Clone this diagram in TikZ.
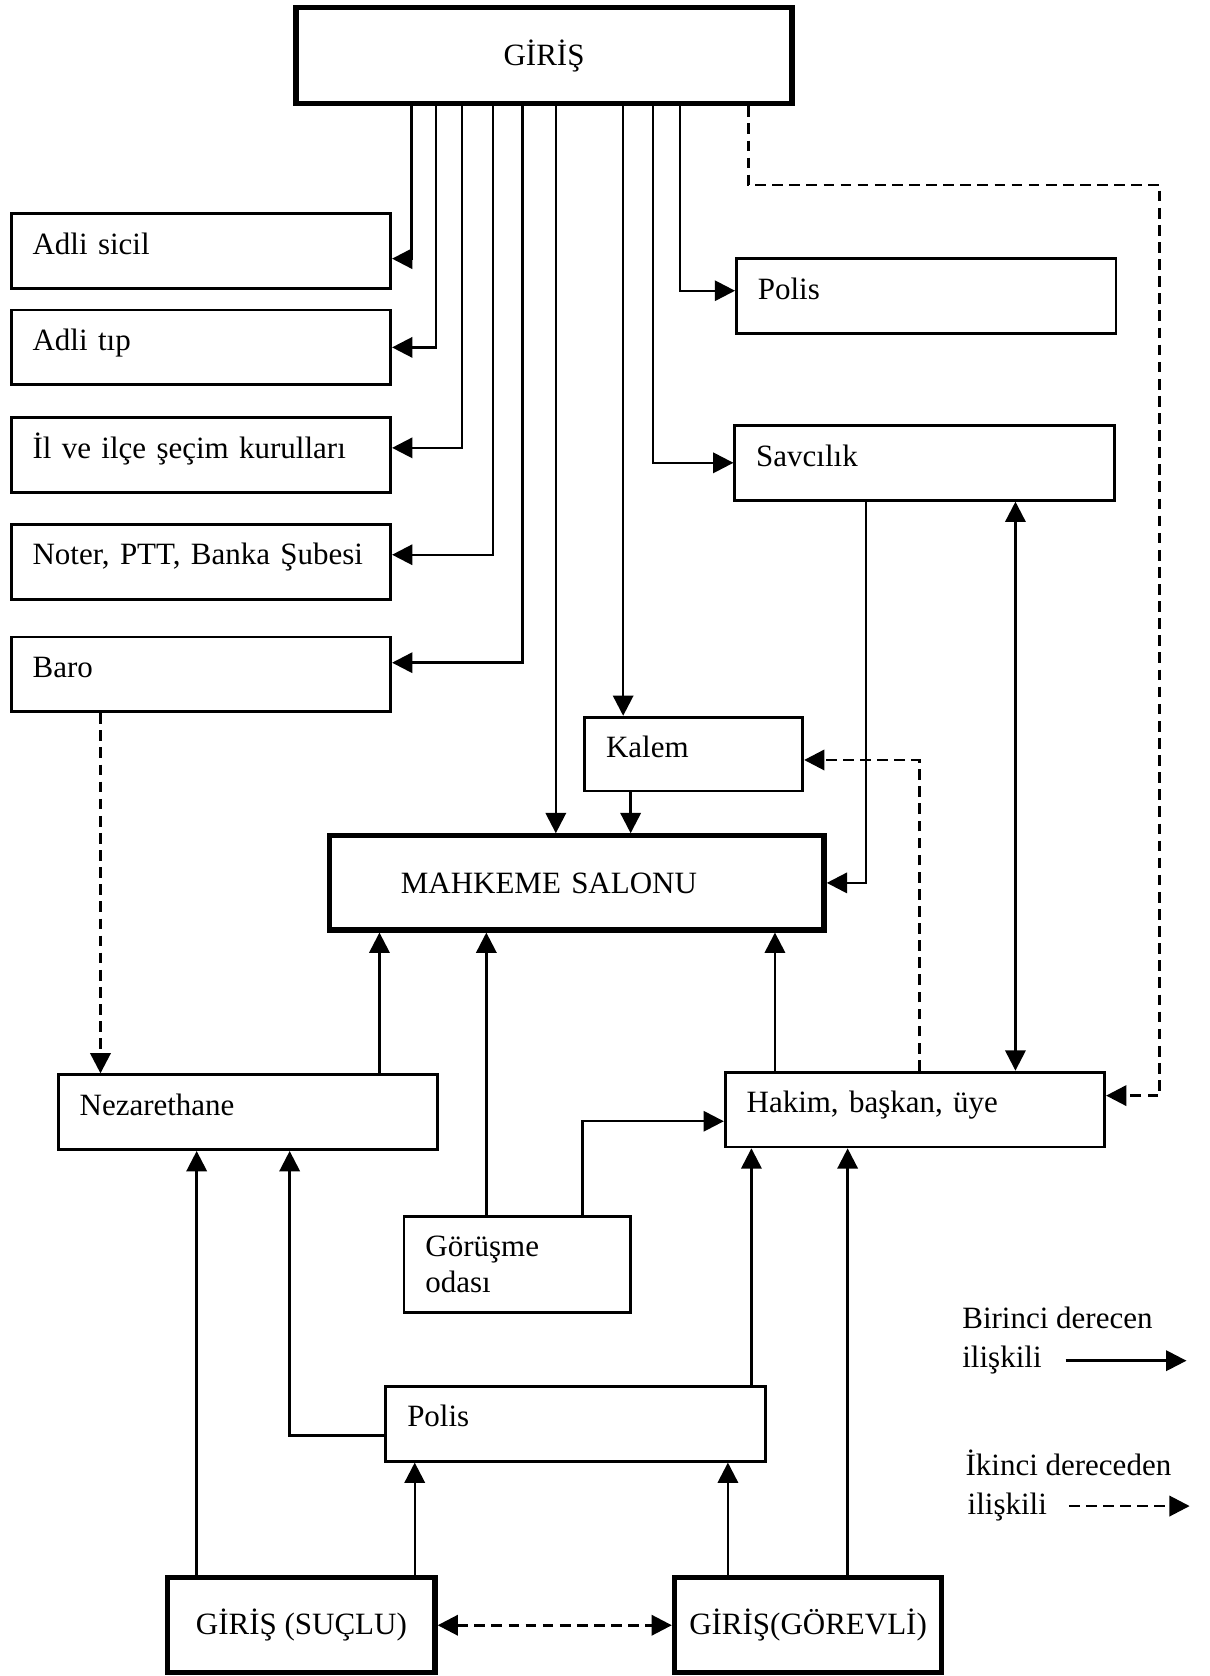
\documentclass[tikz,border=0pt]{standalone}
\usepackage{fontspec}
\setmainfont{Liberation Serif}
\usetikzlibrary{arrows.meta}

\begin{document}
\begin{tikzpicture}[
    font=\fontsize{16.5}{19.5}\selectfont,
    >={Triangle[length=0.38cm, width=0.38cm]},
    plain/.style={draw, line width=1.5pt, align=left, inner xsep=0.4cm},
    box/.style={plain, minimum height=1.4cm, text width=6.3cm, text height=0.45cm, text depth=0.33cm},
    bigbox/.style={draw, line width=2.8pt, align=center},
    arr/.style={->, line width=1.3pt},
    darr/.style={->, line width=1.5pt, dash pattern=on 0.2cm off 0.12cm},
    dboth/.style={<->, line width=1.5pt, dash pattern=on 0.2cm off 0.12cm},
    both/.style={<->, line width=1.3pt},
    legend/.style={anchor=base west, inner sep=0pt}
  ]
                \useasboundingbox (0,0) rectangle (22.64,-31.36);

                \node[bigbox, minimum width=9.28cm, minimum height=1.8cm] (giris) at (10.18,-1.04) {GİRİŞ};

                \node[box] (sicil) at (3.76,-4.70) {Adli sicil};
                \node[box] (tip) at (3.76,-6.50) {Adli tıp};
                \node[box] (secim) at (3.76,-8.51) {İl ve ilçe şeçim kurulları};
                \node[box] (noter) at (3.76,-10.51) {Noter, PTT, Banka Şubesi};
                \node[box] (baro) at (3.76,-12.62) {Baro};

                \node[box] (polisA) at (17.33,-5.54) {Polis};
                \node[box] (savci) at (17.30,-8.66) {Savcılık};
                \node[box, text width=3.28cm, minimum height=1.38cm] (kalem) at (12.98,-14.11) {Kalem};
                \node[bigbox, minimum height=1.76cm, align=left, text width=6.58cm, inner xsep=1.34cm] (salon) at (10.79,-16.52) {MAHKEME SALONU};

                \node[box] (nezaret) at (4.64,-20.81) {Nezarethane};
                \node[box] (hakim) at (17.12,-20.76) {Hakim, başkan, üye};
                \node[plain, text width=3.44cm, minimum height=1.8cm] (gorusme) at (9.68,-23.66) {Görüşme\\odası};
                \node[box] (polisB) at (10.77,-26.64) {Polis};
                \node[bigbox, minimum width=5cm, minimum height=1.78cm] (suclu) at (5.64,-30.41) {GİRİŞ (SUÇLU)};
                \node[bigbox, minimum width=5cm, minimum height=1.78cm] (gorevli) at (15.12,-30.41) {GİRİŞ(GÖREVLİ)};

                \draw[arr] (7.70,0 |- giris.south) |- ([yshift=-0.14cm]sicil.east);
                \draw[arr] (8.16,0 |- giris.south) |- (tip.east);
                \draw[arr] (8.64,0 |- giris.south) |- ([yshift=0.13cm]secim.east);
                \draw[arr] (9.22,0 |- giris.south) |- ([yshift=0.13cm]noter.east);
                \draw[arr] (9.78,0 |- giris.south) |- ([yshift=0.22cm]baro.east);
                \draw[arr] (10.40,0 |- giris.south) -- (10.40,0 |- salon.north);
                \draw[arr] (11.66,0 |- giris.south) -- (11.66,0 |- kalem.north);
                \draw[arr] (12.22,0 |- giris.south) |- (savci.west);
                \draw[arr] (12.72,0 |- giris.south) |- ([yshift=0.1cm]polisA.west);
                \draw[darr] (14.00,0 |- giris.south) |- (21.70,-3.46) |- ([yshift=0.26cm]hakim.east);

                \draw[arr] (11.80,0 |- kalem.south) -- (11.80,0 |- salon.north);
                \draw[arr] (16.20,0 |- savci.south) |- (salon.east);
                \draw[both] (19.00,0 |- savci.south) -- (19.00,0 |- hakim.north);
                \draw[arr] (14.50,0 |- hakim.north) -- (14.50,0 |- salon.south);
                \draw[darr] (17.20,0 |- hakim.north) |- ([yshift=-0.11cm]kalem.east);
                \draw[arr] (7.10,0 |- nezaret.north) -- (7.10,0 |- salon.south);
                \draw[darr] (1.88,0 |- baro.south) -- (1.88,0 |- nezaret.north);
                \draw[arr] (9.10,0 |- gorusme.north) -- (9.10,0 |- salon.south);
                \draw[arr] (10.90,0 |- gorusme.north) |- ([yshift=-0.22cm]hakim.west);
                \draw[arr] ([yshift=-0.22cm]polisB.west) -| (5.42,0 |- nezaret.south);
                \draw[arr] (14.06,0 |- polisB.north) -- (14.06,0 |- hakim.south);
                \draw[arr] (3.68,0 |- suclu.north) -- (3.68,0 |- nezaret.south);
                \draw[arr] (7.76,0 |- suclu.north) -- (7.76,0 |- polisB.south);
                \draw[arr] (13.62,0 |- gorevli.north) -- (13.62,0 |- polisB.south);
                \draw[arr] (15.86,0 |- gorevli.north) -- (15.86,0 |- hakim.south);
                \draw[dboth] (suclu.east) -- (gorevli.west);

                \node[legend] (birinci) at (18.00,-24.85) {Birinci derecen};
                \node[legend] (iliskiA) at (18.00,-25.58) {ilişkili};
                \coordinate (birS) at (19.94,-25.46);
                \coordinate (birE) at (22.20,-25.46);
                \draw[arr] (birS) -- (birE);
                \node[legend] (ikinci) at (18.06,-27.60) {İkinci dereceden};
                \node[legend] (iliskiB) at (18.10,-28.34) {ilişkili};
                \coordinate (ikiS) at (20.00,-28.18);
                \coordinate (ikiE) at (22.26,-28.18);
                \draw[darr] (ikiS) -- (ikiE);
            \end{tikzpicture}
\end{document}
